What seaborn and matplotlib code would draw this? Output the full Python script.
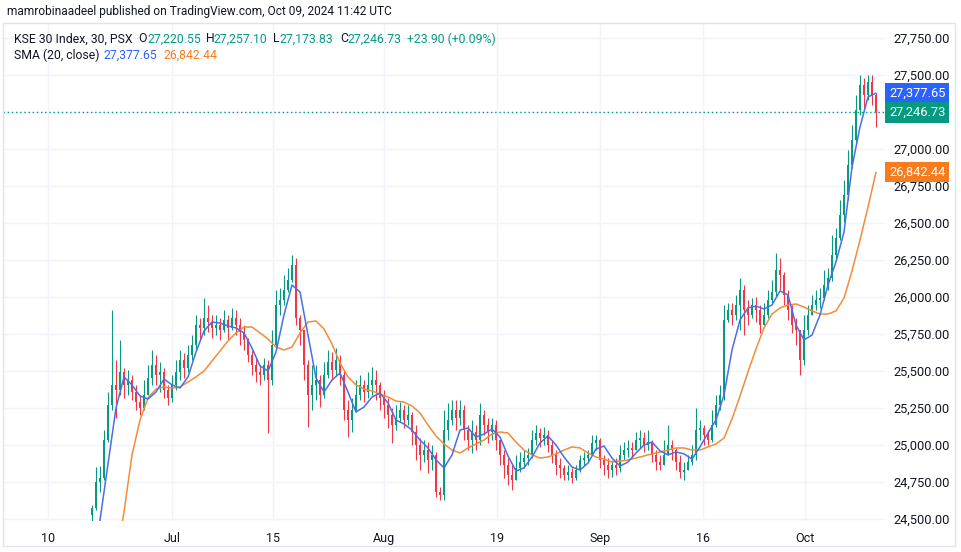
import numpy as np
import pandas as pd
import matplotlib
matplotlib.use("Agg")
import matplotlib.pyplot as plt
import seaborn as sns
from matplotlib.transforms import blended_transform_factory
from matplotlib.patches import Rectangle

# ---------------- data (KSE 30, 30-min bars, aggregated) ----------------
first_open = 24527
closes = [
    24575, 24750, 24777, 25034, 25270, 25406, 25372, 25493, 25406, 25439,
    25358, 25290, 25250, 25338, 25453, 25541, 25473, 25493, 25372, 25318,
    25406, 25493, 25574, 25520, 25608, 25676, 25811, 25791, 25858, 25831,
    25791, 25811, 25777, 25845, 25791, 25858, 25811, 25764, 25710, 25608,
    25541, 25493, 25473, 25541, 25439, 25676, 25946, 25980, 26047, 26115,
    26216, 25858, 25777, 25541, 25338, 25406, 25439, 25338, 25473, 25561,
    25507, 25574, 25473, 25237, 25169, 25237, 25338, 25406, 25358, 25406,
    25439, 25406, 25318, 25270, 25203, 25135, 25183, 25237, 25169, 25203,
    25088, 25000, 24933, 24966, 24899, 24933, 24682, 24662, 25101, 25169,
    25237, 25183, 25237, 25101, 25034, 25088, 25034, 25203, 25135, 25088,
    25135, 25034, 24933, 24865, 24797, 24764, 24845, 24885, 24912, 24933,
    25034, 25081, 25047, 25068, 25000, 24933, 24865, 24845, 24797, 24818,
    24777, 24831, 24899, 24912, 24933, 25014, 25034, 24899, 24865, 24831,
    24865, 24845, 24933, 24966, 24980, 24966, 25034, 25047, 25000, 25020,
    24933, 24885, 24865, 24933, 25000, 24966, 24885, 24818, 24831, 24885,
    24933, 25101, 25115, 25068, 25034, 25135, 25270, 25338, 25845, 25912,
    25879, 25946, 26047, 25912, 25879, 25946, 25912, 25811, 25879, 25980,
    26034, 26183, 26149, 26014, 25912, 25811, 25777, 25574, 25777, 25879,
    25946, 25980, 25993, 26081, 26128, 26284, 26399, 26554, 26689, 26892,
    27061, 27264, 27433, 27365, 27453, 27365, 27246.73,
]
highs = [
    24595, 24851, 24858, 25101, 25358, 25912, 25574, 25710, 25520, 25507,
    25473, 25406, 25338, 25439, 25541, 25642, 25608, 25561, 25520, 25406,
    25473, 25574, 25642, 25622, 25676, 25743, 25879, 25858, 25993, 25946,
    25879, 25879, 25858, 25912, 25879, 25926, 25912, 25858, 25811, 25723,
    25642, 25588, 25541, 25588, 25574, 25777, 26047, 26061, 26149, 26196,
    26284, 26264, 25879, 25777, 25574, 25541, 25541, 25473, 25561, 25642,
    25628, 25655, 25608, 25507, 25304, 25318, 25439, 25473, 25439, 25493,
    25527, 25507, 25426, 25372, 25318, 25250, 25270, 25290, 25270, 25270,
    25223, 25135, 25047, 25034, 25020, 25000, 24953, 24716, 25237, 25284,
    25304, 25304, 25304, 25270, 25135, 25169, 25135, 25284, 25237, 25183,
    25183, 25169, 25034, 24966, 24912, 24865, 24933, 24953, 24966, 24980,
    25101, 25135, 25115, 25122, 25101, 25034, 24966, 24912, 24865, 24865,
    24845, 24865, 24933, 24953, 24966, 25068, 25068, 25050, 24933, 24912,
    24899, 24912, 25000, 25020, 25034, 25020, 25088, 25101, 25088, 25101,
    25034, 24966, 24933, 25034, 25135, 25034, 24980, 24933, 24885, 24933,
    25000, 25250, 25169, 25135, 25101, 25237, 25338, 25406, 25946, 25960,
    25960, 26014, 26128, 26081, 25980, 25993, 26000, 25946, 25960, 26047,
    26115, 26297, 26264, 26169, 26047, 25946, 25858, 25777, 25879, 25946,
    26014, 26047, 26061, 26183, 26196, 26419, 26466, 26656, 26791, 26993,
    27162, 27365, 27500, 27480, 27500, 27500, 27378,
]
lows = [
    24460, 24561, 24682, 24764, 25020, 25237, 25183, 25338, 25318, 25338,
    25304, 25237, 25203, 25237, 25338, 25406, 25406, 25358, 25318, 25270,
    25290, 25372, 25439, 25453, 25493, 25574, 25642, 25710, 25743, 25764,
    25723, 25743, 25710, 25764, 25710, 25777, 25743, 25676, 25642, 25561,
    25473, 25426, 25406, 25439, 25081, 25406, 25660, 25879, 25946, 26034,
    26100, 25811, 25676, 25439, 25122, 25237, 25304, 25257, 25318, 25453,
    25439, 25473, 25406, 25169, 25054, 25088, 25220, 25304, 25290, 25318,
    25338, 25304, 25237, 25183, 25115, 25014, 25101, 25155, 25115, 25135,
    25000, 24899, 24831, 24885, 24811, 24831, 24649, 24629, 24629, 25034,
    25135, 25101, 25135, 25034, 24966, 24946, 24966, 25000, 25068, 25014,
    25034, 24966, 24865, 24777, 24730, 24696, 24764, 24818, 24845, 24865,
    24912, 25000, 24987, 25000, 24953, 24878, 24797, 24777, 24764, 24764,
    24743, 24764, 24818, 24865, 24885, 24933, 24966, 24845, 24797, 24777,
    24784, 24797, 24818, 24899, 24919, 24912, 24966, 24980, 24953, 24966,
    24885, 24831, 24831, 24865, 24933, 24899, 24831, 24777, 24764, 24831,
    24865, 24899, 25034, 25000, 25000, 25020, 25120, 25237, 25304, 25831,
    25811, 25845, 25777, 25743, 25811, 25858, 25831, 25757, 25811, 25860,
    25960, 26010, 26047, 25946, 25845, 25757, 25676, 25473, 25541, 25743,
    25879, 25912, 25926, 25980, 26047, 26110, 26250, 26385, 26507, 26656,
    26872, 27027, 27230, 27264, 27331, 27298, 27149,
]

# moving averages, sampled every 2 bars
sma_step = 2
sma_fast = [
    24115, 24493, 24872, 25250, 25460, 25406, 25331, 25311, 25358, 25446,
    25406, 25385, 25460, 25628, 25770, 25831, 25824, 25804, 25791, 25757,
    25655, 25534, 25500, 25628, 25879, 26081, 26034, 25743, 25453, 25358,
    25439, 25487, 25358, 25223, 25257, 25324, 25351, 25284, 25169, 25142,
    25101, 25034, 24980, 24899, 24845, 24933, 25101, 25115, 25054, 25074,
    25108, 25054, 24926, 24824, 24845, 24919, 25014, 25061, 25000, 24919,
    24851, 24831, 24878, 24973, 24993, 24912, 24858, 24885, 24946, 25000,
    25020, 24960, 24933, 24953, 24940, 24905, 24987, 25081, 25169, 25338,
    25642, 25845, 25926, 25939, 25919, 25946, 26041, 26014, 25811, 25710,
    25743, 25879, 26081, 26237, 26439, 26878, 27149, 27352, 27377.65,
]
sma_slow = [
    23412, 23682, 23953, 24223, 24547, 24933, 25169, 25318, 25378, 25392,
    25385, 25392, 25426, 25460, 25500, 25568, 25635, 25703, 25757, 25797,
    25797, 25757, 25716, 25662, 25642, 25662, 25757, 25831, 25838, 25784,
    25682, 25554, 25460, 25406, 25378, 25365, 25345, 25324, 25297, 25290,
    25264, 25216, 25135, 25061, 25007, 24966, 24946, 24980, 25007, 25034,
    25074, 25088, 25081, 25020, 24966, 24933, 24912, 24919, 24940, 24966,
    24987, 24980, 24946, 24919, 24905, 24885, 24892, 24899, 24912, 24926,
    24940, 24953, 24966, 24980, 24980, 24966, 24966, 24987, 25007, 25047,
    25176, 25331, 25493, 25649, 25791, 25885, 25926, 25946, 25953, 25932,
    25906, 25885, 25885, 25906, 25993, 26176, 26385, 26608, 26842.44,
]

tick_pos = [-11, 20, 45.25, 73, 101.25, 127, 152.75, 178.25]
tick_labels = ["10", "Jul", "15", "Aug", "19", "Sep", "16", "Oct"]
price_levels = list(range(24500, 27751, 250))
hidden_level = 27250

last_o, last_h, last_l, last_c = 27220.55, 27257.10, 27173.83, 27246.73
change, change_pct = 23.90, 0.09

# ---------------- style ----------------
UP = "#089981"
DOWN = "#F23645"
BLUE = "#2962FF"
BLUE_LINE = "#4A6EE8"
ORANGE = "#F57C1F"
ORANGE_LINE = "#F28C38"
TXT = "#131722"
GRID = "#F0F3FA"

sns.set_theme(style="white")
plt.rcParams['font.family'] = ['Roboto', 'DejaVu Sans']

W, H = 962, 552
fig = plt.figure(figsize=(W / 100, H / 100), dpi=100)
fig.patch.set_facecolor("white")


def fx(x):
    return x / W


def fy(y):
    return 1 - y / H


ax = fig.add_axes([fx(3), fy(521), (885 - 3) / W, (521 - 23) / H])

n = len(closes)
df = pd.DataFrame({"bar": np.arange(n), "close": closes, "high": highs, "low": lows})
df["open"] = [first_open] + closes[:-1]
up = (df["close"] >= df["open"]).to_numpy()
colors = np.where(up, UP, DOWN)

ax.vlines(df["bar"], df["low"], df["high"], colors=colors, lw=0.8, zorder=2)
body = (df["close"] - df["open"]).abs().clip(lower=4)
ax.bar(df["bar"], body, bottom=np.minimum(df["open"], df["close"]), width=0.55,
       color=colors, linewidth=0, zorder=2)

fast = pd.DataFrame({"bar": np.arange(len(sma_fast)) * sma_step, "sma": sma_fast})
slow = pd.DataFrame({"bar": np.arange(len(sma_slow)) * sma_step, "sma": sma_slow})
sns.lineplot(data=slow, x="bar", y="sma", ax=ax, color=ORANGE_LINE, lw=1.1, zorder=3)
sns.lineplot(data=fast, x="bar", y="sma", ax=ax, color=BLUE_LINE, lw=1.1, zorder=4)

ax.axhline(last_c, color=UP, lw=1, ls=(0, (1, 2)), zorder=1)

ax.set_xlim(-22.25, 198.25)
ax.set_ylim(24486.5, 27851.4)
ax.set_xticks(tick_pos)
ax.set_xticklabels(tick_labels)
ax.set_yticks(price_levels)
ax.set_yticklabels(["" if v == hidden_level else f"{v:,.2f}" for v in price_levels])
ax.yaxis.tick_right()
ax.tick_params(axis="y", length=0, pad=6, labelsize=9.3, labelcolor=TXT)
ax.tick_params(axis="x", length=0, pad=8, labelsize=9.0, labelcolor=TXT)
ax.grid(True, color=GRID, lw=1)
ax.set_axisbelow(True)
ax.set_xlabel("")
ax.set_ylabel("")
for s in ax.spines.values():
    s.set_visible(False)

# price labels on the right scale
trans = blended_transform_factory(ax.transAxes, ax.transData)
xlab = 1 + (889 - 885) / (885 - 3)
for val, col in [(sma_fast[-1], BLUE), (last_c, UP), (sma_slow[-1], ORANGE)]:
    ax.text(xlab, val, f"{val:,.2f}", transform=trans, ha="left", va="center",
            color="white", fontsize=9.3, clip_on=False, zorder=10,
            bbox=dict(boxstyle="square,pad=0.28", fc=col, ec="none"))

# frame
fig.add_artist(Rectangle((fx(3), fy(546)), (955 - 3) / W, (546 - 23) / H,
                         transform=fig.transFigure, fill=False, ec="#E0E3EB", lw=1))

# header and legend
fig.text(fx(7), fy(12), "mamrobinaadeel published on TradingView.com, Oct 09, 2024 11:42 UTC",
         fontsize=8.6, color=TXT, va="center")
y1, y2 = fy(39), fy(55)
segs1 = [(14, "KSE 30 Index, 30, PSX", TXT), (138, "O", TXT), (147, f"{last_o:,.2f}", UP),
         (206, "H", TXT), (214, f"{last_h:,.2f}", UP), (273, "L", TXT), (280, f"{last_l:,.2f}", UP),
         (340, "C", TXT), (348, f"{last_c:,.2f}", UP), (407, f"+{change:.2f} (+{change_pct:.2f}%)", UP)]
for x, s, c in segs1:
    fig.text(fx(x), y1, s, fontsize=8.8, color=c, va="center")
segs2 = [(14, "SMA (20, close)", TXT), (103, f"{sma_fast[-1]:,.2f}", BLUE),
         (163, f"{sma_slow[-1]:,.2f}", ORANGE)]
for x, s, c in segs2:
    fig.text(fx(x), y2, s, fontsize=8.8, color=c, va="center")

fig.savefig("out.png", dpi=100)
